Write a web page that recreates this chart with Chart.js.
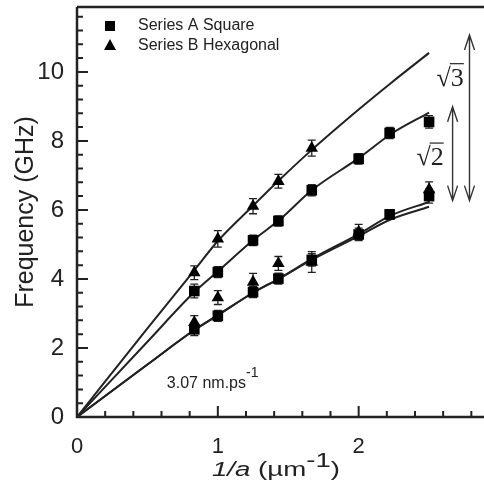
<!DOCTYPE html>
<html>
<head>
<meta charset="utf-8">
<script src="https://cdn.jsdelivr.net/npm/chart.js@4"></script>
<style>
  body { margin: 0; background: #fff; }
</style>
</head>
<body>
<canvas id="freqChart" width="484" height="488"></canvas>
<script>
// measured points (1/a in um^-1, frequency in GHz)
const squareX = [0.833, 1, 1.25, 1.43, 1.667, 2, 2.22, 2.5];
const squareUpper = [3.65, 4.2, 5.12, 5.68, 6.57, 7.48, 8.23, 8.55];
const squareUpperErr = [0.2, 0.16, 0.15, 0.15, 0.16, 0.15, 0.16, 0.18];
const squareLower = [2.54, 2.93, 3.62, 4.01, 4.55, 5.29, 5.87, 6.4];
const squareLowerErr = [0.18, 0.16, 0.16, 0.16, 0.18, 0.18, 0.14, 0.2];

const hexUpperX = [0.833, 1, 1.25, 1.43, 1.667];
const hexUpper = [4.18, 5.16, 6.11, 6.83, 7.79];
const hexUpperErr = [0.2, 0.24, 0.22, 0.2, 0.23];
const hexLowerX = [0.833, 1, 1.25, 1.43, 1.667, 2, 2.5];
const hexLower = [2.74, 3.46, 3.91, 4.45, 4.49, 5.36, 6.59];
const hexLowerErr = [0.2, 0.2, 0.25, 0.2, 0.3, 0.22, 0.22];

// fitted curves
const fitX = [0, 0.5, 0.833, 1, 1.25, 1.44, 1.667, 2, 2.23, 2.5];
const fitSqrt3 = [0, 2.57, 4.25, 5.1, 6.12, 6.88, 7.74, 8.91, 9.68, 10.55];
const fitSqrt2 = [0, 2.18, 3.62, 4.22, 5.12, 5.72, 6.57, 7.5, 8.2, 8.82];
const fitBaseA = [0, 1.52, 2.52, 2.95, 3.6, 4.02, 4.58, 5.3, 5.84, 6.23];
const fitBaseB = [0, 1.52, 2.52, 2.95, 3.6, 4.02, 4.55, 5.24, 5.73, 6.09];

const xTickLabels = [0, 1, 2];
const yTickLabels = [0, 2, 4, 6, 8, 10];
const xMinorStep = 0.2;
const yMinorStep = 0.4;

const ink = '#222';
const sans = '"Liberation Sans", Arial, sans-serif';
const serif = '"Liberation Serif", "Times New Roman", serif';

function pts(xs, ys) {
  return xs.map((x, i) => ({ x: x, y: ys[i] }));
}

function fitLine(ys) {
  return {
    type: 'line',
    data: pts(fitX, ys),
    borderColor: ink,
    borderWidth: 2,
    pointRadius: 0,
    cubicInterpolationMode: 'monotone',
    order: 2,
  };
}

function markers(label, xs, ys, errs, style, r) {
  return {
    type: 'scatter',
    label: label,
    data: pts(xs, ys),
    errors: errs,
    pointStyle: style,
    pointRadius: r,
    backgroundColor: '#000',
    borderColor: '#000',
    borderWidth: 0,
    order: 1,
  };
}

const errorBars = {
  id: 'errorBars',
  beforeDatasetsDraw(chart) {
    const { ctx, scales: { x, y } } = chart;
    ctx.save();
    ctx.strokeStyle = ink;
    ctx.lineWidth = 1.3;
    chart.data.datasets.forEach((ds) => {
      if (!ds.errors) return;
      ds.data.forEach((p, i) => {
        const px = x.getPixelForValue(p.x);
        const top = y.getPixelForValue(p.y + ds.errors[i]);
        const bot = y.getPixelForValue(p.y - ds.errors[i]);
        ctx.beginPath();
        ctx.moveTo(px, top); ctx.lineTo(px, bot);
        ctx.moveTo(px - 4, top); ctx.lineTo(px + 4, top);
        ctx.moveTo(px - 4, bot); ctx.lineTo(px + 4, bot);
        ctx.stroke();
      });
    });
    ctx.restore();
  }
};

function arrow(ctx, px, top, bot) {
  ctx.beginPath();
  ctx.moveTo(px, top); ctx.lineTo(px, bot);
  ctx.moveTo(px - 5, top + 15); ctx.lineTo(px, top); ctx.lineTo(px + 5, top + 15);
  ctx.moveTo(px - 5, bot - 15); ctx.lineTo(px, bot); ctx.lineTo(px + 5, bot - 15);
  ctx.stroke();
}

function radical(ctx, n, px, py) {
  ctx.font = '26px ' + serif;
  ctx.textAlign = 'left';
  ctx.textBaseline = 'alphabetic';
  const w1 = ctx.measureText('\u221A').width;
  const w2 = ctx.measureText(n).width;
  ctx.fillText('\u221A', px, py);
  ctx.fillText(n, px + w1, py);
  ctx.beginPath();
  ctx.lineWidth = 1.2;
  ctx.moveTo(px + w1 - 1, py - 22);
  ctx.lineTo(px + w1 + w2, py - 22);
  ctx.stroke();
}

const decorations = {
  id: 'decorations',
  afterDraw(chart) {
    const { ctx, chartArea: ca, scales: { x, y } } = chart;
    ctx.save();
    ctx.strokeStyle = ink;
    ctx.fillStyle = ink;

    // axes and top frame
    ctx.lineWidth = 2.5;
    ctx.beginPath();
    ctx.moveTo(ca.left, ca.top); ctx.lineTo(ca.right, ca.top);
    ctx.moveTo(ca.left, ca.top); ctx.lineTo(ca.left, ca.bottom);
    ctx.lineTo(ca.right, ca.bottom);
    ctx.stroke();

    // inward ticks
    ctx.lineWidth = 2;
    ctx.beginPath();
    for (let v = 0; v <= x.max + 1e-9; v += xMinorStep) {
      const px = x.getPixelForValue(v);
      const major = Math.abs(v - Math.round(v)) < 1e-6;
      ctx.moveTo(px, ca.bottom); ctx.lineTo(px, ca.bottom - (major ? 11 : 6));
    }
    for (let v = 0; v <= y.max + 1e-9; v += yMinorStep) {
      const py = y.getPixelForValue(v);
      const major = Math.abs(v / 2 - Math.round(v / 2)) < 1e-6;
      ctx.moveTo(ca.left, py); ctx.lineTo(ca.left + (major ? 11 : 6), py);
    }
    ctx.stroke();

    // legend
    const lx = ca.left + 33;
    ctx.fillStyle = '#000';
    ctx.fillRect(lx - 5, ca.top + 14, 10, 10);
    ctx.beginPath();
    ctx.moveTo(lx, ca.top + 32); ctx.lineTo(lx + 6, ca.top + 43); ctx.lineTo(lx - 6, ca.top + 43);
    ctx.closePath();
    ctx.fill();
    ctx.fillStyle = ink;
    ctx.font = '16px ' + sans;
    ctx.textBaseline = 'middle';
    ctx.textAlign = 'left';
    const sets = chart.data.datasets.filter(d => d.label);
    ctx.fillText(sets[0].label, lx + 28, ca.top + 19);
    ctx.fillText(sets[1].label, lx + 28, ca.top + 38.5);

    // velocity note
    ctx.textBaseline = 'alphabetic';
    ctx.font = '16px ' + sans;
    const nx = x.getPixelForValue(0.638), ny = y.getPixelForValue(0.85);
    ctx.fillText('3.07 nm.ps', nx, ny);
    const nw = ctx.measureText('3.07 nm.ps').width;
    ctx.font = '14px ' + sans;
    ctx.fillText('-1', nx + nw, ny - 11);

    // ratio arrows
    ctx.strokeStyle = '#333';
    ctx.lineWidth = 1.4;
    arrow(ctx, x.getPixelForValue(2.787), y.getPixelForValue(11.07), y.getPixelForValue(6.27));
    arrow(ctx, x.getPixelForValue(2.667), y.getPixelForValue(8.99), y.getPixelForValue(6.27));
    ctx.strokeStyle = ink;
    ctx.fillStyle = ink;
    radical(ctx, '3', x.getPixelForValue(2.553), y.getPixelForValue(9.6));
    radical(ctx, '2', x.getPixelForValue(2.41), y.getPixelForValue(7.3));

    // x axis title
    const parts = [
      { t: '1/a', f: 'italic 20px ' + sans, dy: 0 },
      { t: ' (\u00B5m', f: '20px ' + sans, dy: 0 },
      { t: '-1', f: '20px ' + sans, dy: -9 },
      { t: ')', f: '20px ' + sans, dy: 0 },
    ];
    let total = 0;
    parts.forEach(p => { ctx.font = p.f; p.w = ctx.measureText(p.t).width; total += p.w; });
    const sx = 128 / total;
    ctx.translate(212, 476);
    ctx.scale(sx, 1);
    let cx = 0;
    parts.forEach(p => { ctx.font = p.f; ctx.fillText(p.t, cx, p.dy); cx += p.w; });
    ctx.restore();
  }
};

new Chart(document.getElementById('freqChart').getContext('2d'), {
  data: {
    datasets: [
      markers('Series A Square', squareX, squareUpper, squareUpperErr, 'rect', 7.5),
      markers(null, squareX, squareLower, squareLowerErr, 'rect', 7.5),
      markers('Series B Hexagonal', hexUpperX, hexUpper, hexUpperErr, 'triangle', 7.2),
      markers(null, hexLowerX, hexLower, hexLowerErr, 'triangle', 7.2),
      fitLine(fitSqrt3),
      fitLine(fitSqrt2),
      fitLine(fitBaseA),
      fitLine(fitBaseB),
    ],
  },
  options: {
    responsive: false,
    animation: false,
    layout: { autoPadding: false, padding: { top: 7, right: 0, left: 0, bottom: 0 } },
    plugins: { legend: { display: false }, tooltip: { enabled: false } },
    scales: {
      x: {
        type: 'linear',
        min: 0,
        max: 2.89,
        grid: { display: false, drawTicks: false },
        border: { display: false },
        afterFit(scale) {
          scale.height = 71;
          scale.paddingLeft = 0;
          scale.paddingRight = 0;
        },
        ticks: {
          stepSize: 1,
          includeBounds: false,
          autoSkip: false,
          maxRotation: 0,
          padding: 17,
          color: ink,
          font: { family: sans, size: 22 },
          callback: v => (xTickLabels.includes(v) ? v : ''),
        },
      },
      y: {
        type: 'linear',
        min: 0,
        max: 11.88,
        grid: { display: false, drawTicks: false },
        border: { display: false },
        afterFit(scale) {
          scale.width = 77;
          scale.paddingTop = 0;
          scale.paddingBottom = 0;
        },
        title: {
          display: true,
          text: 'Frequency (GHz)',
          color: ink,
          font: { family: sans, size: 25 },
          padding: { top: 11, bottom: 0 },
        },
        ticks: {
          stepSize: 2,
          includeBounds: false,
          autoSkip: false,
          padding: 13,
          color: ink,
          font: { family: sans, size: 24 },
          callback: v => (yTickLabels.includes(v) ? v : ''),
        },
      },
    },
  },
  plugins: [errorBars, decorations],
});
</script>
</body>
</html>
